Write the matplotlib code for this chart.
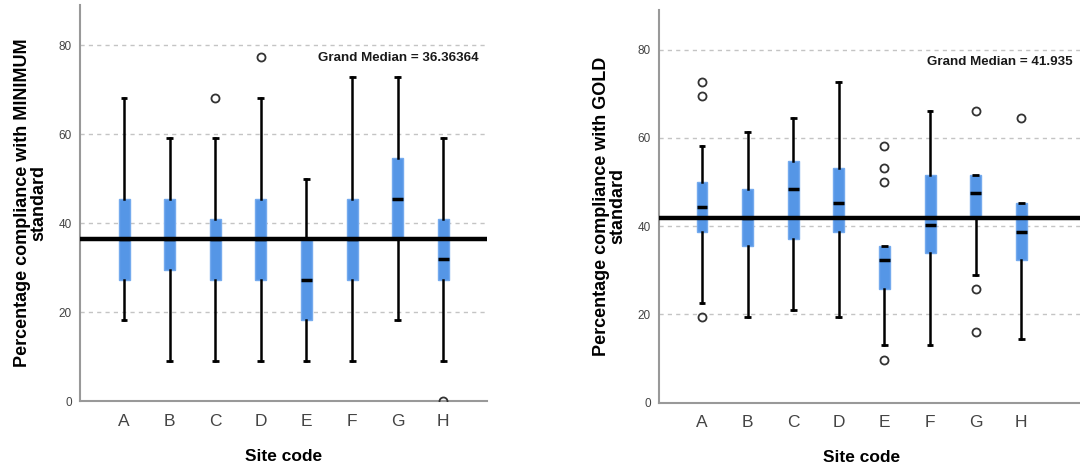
import matplotlib.pyplot as plt

plt.rcParams['font.family'] = ['Liberation Sans', 'DejaVu Sans']

sites = ['A', 'B', 'C', 'D', 'E', 'F', 'G', 'H']

# MINIMUM standard (left panel)
min_whislo = [18.18, 9.09, 9.09, 9.09, 9.09, 9.09, 18.18, 9.09]
min_q1 = [27.27, 29.55, 27.27, 27.27, 18.18, 27.27, 36.36, 27.27]
min_med = [36.36, 36.36, 36.36, 36.36, 27.27, 36.36, 45.45, 31.82]
min_q3 = [45.45, 45.45, 40.91, 45.45, 36.36, 45.45, 54.55, 40.91]
min_whishi = [68.18, 59.09, 59.09, 68.18, 50.0, 72.73, 72.73, 59.09]
min_fliers = [[], [], [68.18], [77.27], [], [], [], [0.0]]
min_grand = 36.36364

# GOLD standard (right panel)
gold_whislo = [22.6, 19.4, 21.0, 19.4, 13.0, 13.0, 29.0, 14.5]
gold_q1 = [38.7, 35.5, 37.1, 38.7, 25.8, 33.9, 41.9, 32.3]
gold_med = [44.4, 41.9, 48.4, 45.2, 32.3, 40.3, 47.6, 38.7]
gold_q3 = [50.0, 48.4, 54.8, 53.2, 35.5, 51.6, 51.6, 45.2]
gold_whishi = [58.1, 61.3, 64.5, 72.6, 35.5, 66.1, 51.6, 45.2]
gold_fliers = [[72.6, 69.4, 19.4], [], [], [], [58.1, 53.2, 50.0, 9.7], [], [66.1, 25.8, 16.1], [64.5]]
gold_grand = 41.935

fig = plt.figure(figsize=(10.8, 4.72), dpi=100)
ax1 = fig.add_axes([0.0741, 0.1504, 0.3769, 0.8390])
ax2 = fig.add_axes([0.6102, 0.1468, 0.3907, 0.8320])


def draw_panel(ax, lo, q1, med, q3, hi, fl, grand, ylabel, xlim, xlab_x):
    stats = []
    for i in range(len(sites)):
        stats.append({'whislo': lo[i], 'q1': q1[i], 'med': med[i], 'q3': q3[i],
                      'whishi': hi[i], 'fliers': fl[i], 'label': sites[i]})
    ax.bxp(stats, positions=range(1, len(sites) + 1), widths=0.24,
           capwidths=0.15, patch_artist=True,
           boxprops=dict(facecolor='#5596e6', edgecolor='#74aaee', linewidth=1),
           medianprops=dict(color='black', linewidth=2.5, solid_capstyle='butt'),
           whiskerprops=dict(color='black', linewidth=1.8),
           capprops=dict(color='black', linewidth=2.0, solid_capstyle='butt'),
           flierprops=dict(marker='o', markerfacecolor='none', markeredgecolor='#333333',
                           markersize=5.8, markeredgewidth=1.3),
           zorder=3)
    ax.axhline(grand, color='black', linewidth=3.2, zorder=4)
    ax.text(0.98, 77.2, f'Grand Median = {grand}', transform=ax.get_yaxis_transform(),
            ha='right', va='center', fontsize=9.6, fontweight='bold', color='#1a1a1a')

    ax.set_ylim(0, 89)
    ax.set_xlim(*xlim)
    ax.set_yticks([0, 20, 40, 60, 80])
    ax.yaxis.grid(True, linestyle=(0, (3, 3)), color='#c4c4c4', linewidth=1)
    ax.set_axisbelow(True)
    for s in ['top', 'right']:
        ax.spines[s].set_visible(False)
    for s in ['left', 'bottom']:
        ax.spines[s].set_color('#999999')
        ax.spines[s].set_linewidth(1.5)
    ax.tick_params(axis='y', length=0, labelsize=8.5, labelcolor='#444444', pad=6)
    ax.tick_params(axis='x', length=0, labelsize=12.5, labelcolor='#444444', pad=9)
    ax.set_ylabel(ylabel, fontsize=13, fontweight='bold', labelpad=8, linespacing=0.95)
    ax.set_xlabel('Site code', fontsize=12.5, fontweight='bold')
    ax.xaxis.set_label_coords(xlab_x, -0.12)


draw_panel(ax1, min_whislo, min_q1, min_med, min_q3, min_whishi, min_fliers, min_grand,
           'Percentage compliance with MINIMUM\nstandard', (0.035, 8.96), 0.5)
draw_panel(ax2, gold_whislo, gold_q1, gold_med, gold_q3, gold_whishi, gold_fliers, gold_grand,
           'Percentage compliance with GOLD\nstandard', (0.057, 9.31), 0.48)

fig.savefig('out.png', dpi=100)
